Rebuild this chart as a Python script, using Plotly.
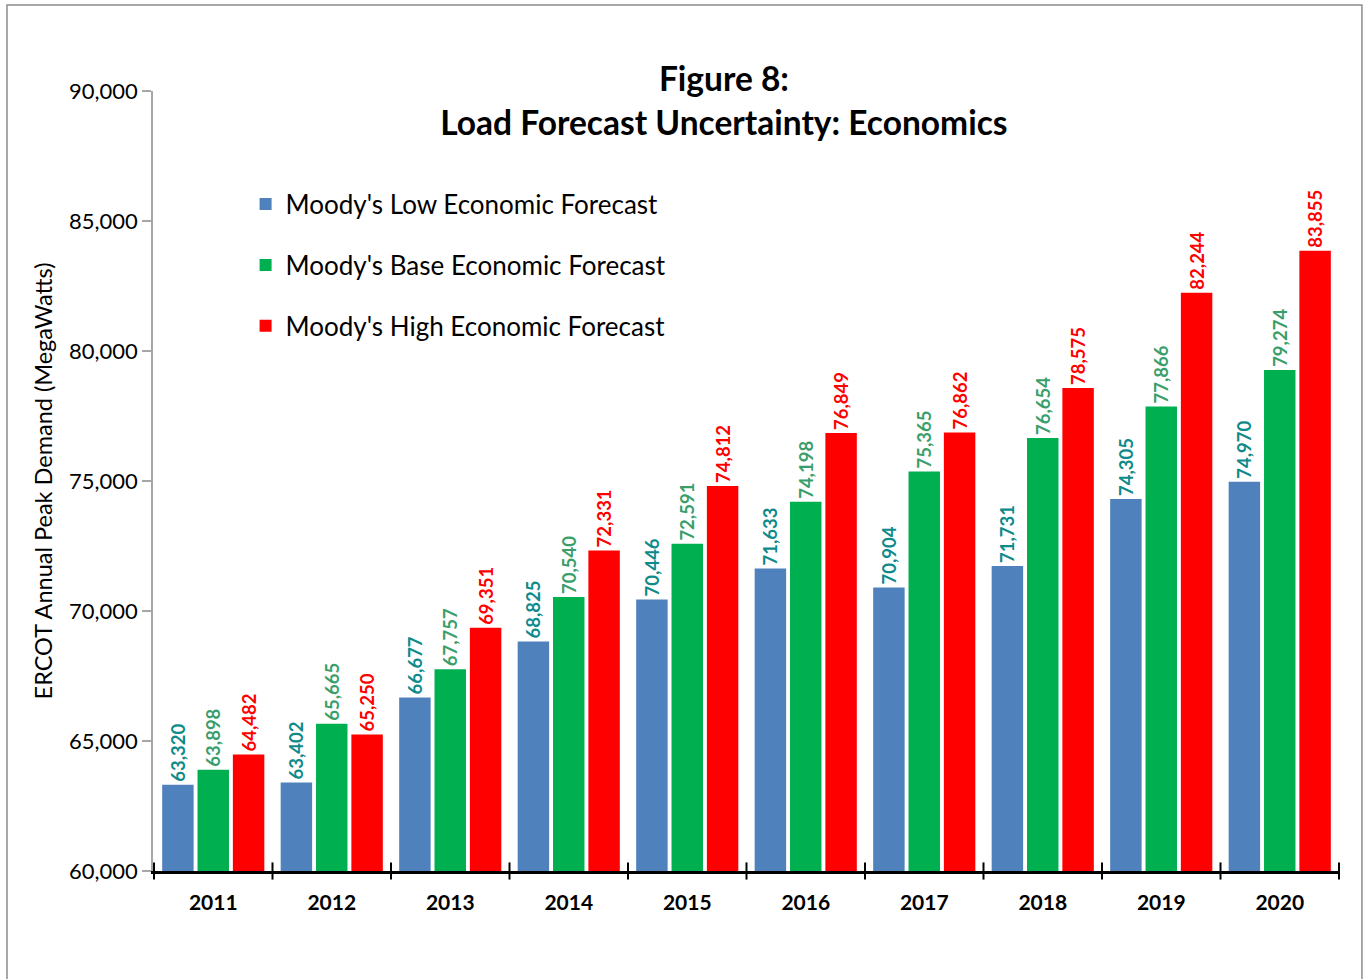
import plotly.graph_objects as go

years = ["2011", "2012", "2013", "2014", "2015", "2016", "2017", "2018", "2019", "2020"]
low_forecast = [63320, 63402, 66677, 68825, 70446, 71633, 70904, 71731, 74305, 74970]
base_forecast = [63898, 65665, 67757, 70540, 72591, 74198, 75365, 76654, 77866, 79274]
high_forecast = [64482, 65250, 69351, 72331, 74812, 76849, 76862, 78575, 82244, 83855]

series = [
    ("Moody's Low Economic Forecast", low_forecast, "#4F81BD", "#0E8A8A"),
    ("Moody's Base Economic Forecast", base_forecast, "#00B050", "#3A9E6A"),
    ("Moody's High Economic Forecast", high_forecast, "#FF0000", "#FF0000"),
]

FONT = "Lato"

fig = go.Figure()
for i, (name, vals, color, label_color) in enumerate(series):
    fig.add_trace(go.Bar(
        x=years, y=vals, name=name, legendgroup=f"g{i}",
        marker=dict(color=color, line=dict(width=0)),
        text=[f"{v:,}" for v in vals],
        textposition="outside", textangle=-90,
        texttemplate="%{text}", constraintext="none",
        textfont=dict(family=FONT, size=18.5, color=label_color, weight="bold"),
        cliponaxis=False,
    ))

# category boundary tick marks crossing the x axis line
shapes = []
for k in range(len(years) + 1):
    shapes.append(dict(type="line", xref="x", yref="paper",
                       x0=k - 0.5, x1=k - 0.5, y0=-0.011, y1=0.011,
                       line=dict(color="black", width=2)))
# outer chart border
shapes.append(dict(type="rect", xref="paper", yref="paper",
                   x0=-0.123, x1=1.0185, y0=-0.3, y1=1.1103,
                   line=dict(color="#8C8C8C", width=1.5), layer="below"))

fig.update_layout(
    width=1366, height=979,
    margin=dict(l=153, r=26, t=91, b=108),
    paper_bgcolor="white", plot_bgcolor="white",
    barmode="group", bargap=0.105, bargroupgap=0.11,
    font=dict(family=FONT, color="black"),
    title=dict(text="<b>Figure 8:<br>Load Forecast Uncertainty: Economics</b>",
               x=0.481, xref="paper", xanchor="center",
               y=0.907, yref="container", yanchor="top",
               font=dict(family=FONT, size=33.5, color="black")),
    legend=dict(x=0.078, y=0.885, xanchor="left", yanchor="top",
                font=dict(family=FONT, size=26, color="black"),
                tracegroupgap=24, bgcolor="rgba(0,0,0,0)"),
    shapes=shapes,
    xaxis=dict(showline=True, linecolor="black", linewidth=2.5,
               ticks="", showgrid=False, ticklabelstandoff=11,
               tickfont=dict(family=FONT, size=21, color="black", weight="bold")),
    yaxis=dict(range=[60000, 90000], dtick=5000, tickformat=",",
               showline=True, linecolor="#A6A6A6", linewidth=1.5,
               ticks="outside", ticklen=9, tickcolor="#A6A6A6", tickwidth=1.5,
               showgrid=False, zeroline=False,
               tickfont=dict(family=FONT, size=22, color="black"),
               title=dict(text="ERCOT Annual Peak Demand (MegaWatts)",
                          font=dict(family=FONT, size=23.5, color="black"),
                          standoff=10)),
)

fig.write_html("out.html")
